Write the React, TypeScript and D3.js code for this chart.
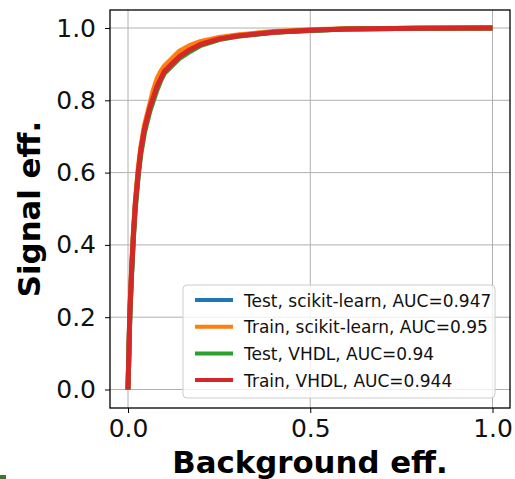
import React, { useEffect, useRef } from "react";
import * as d3 from "d3";

// ROC curve points (background eff. -> signal eff.)
const fpr = [0, 0.005, 0.01, 0.015, 0.02, 0.028, 0.035, 0.045, 0.06, 0.07, 0.08, 0.09, 0.1, 0.12, 0.14, 0.17, 0.2, 0.25, 0.3, 0.4, 0.5, 0.6, 0.8, 1.0];
const testSklearn = [0, 0.21, 0.33, 0.43, 0.51, 0.6, 0.66, 0.72, 0.78, 0.815, 0.845, 0.865, 0.885, 0.905, 0.925, 0.943, 0.957, 0.971, 0.979, 0.989, 0.994, 0.997, 0.999, 1.0];
const trainSklearn = [0, 0.22, 0.34, 0.44, 0.52, 0.61, 0.67, 0.73, 0.79, 0.83, 0.86, 0.88, 0.895, 0.915, 0.935, 0.952, 0.963, 0.974, 0.981, 0.99, 0.995, 0.998, 0.999, 1.0];
const testVhdl = [0, 0.2, 0.32, 0.42, 0.5, 0.59, 0.65, 0.71, 0.77, 0.8, 0.83, 0.855, 0.875, 0.895, 0.915, 0.935, 0.952, 0.968, 0.977, 0.988, 0.993, 0.997, 0.999, 1.0];
const trainVhdl = [0, 0.21, 0.33, 0.43, 0.51, 0.6, 0.66, 0.72, 0.78, 0.81, 0.84, 0.86, 0.88, 0.9, 0.92, 0.94, 0.955, 0.97, 0.978, 0.988, 0.994, 0.997, 0.999, 1.0];

const seriesNames = [
  "Test, scikit-learn, AUC=0.947",
  "Train, scikit-learn, AUC=0.95",
  "Test, VHDL, AUC=0.94",
  "Train, VHDL, AUC=0.944",
];
const seriesValues = [testSklearn, trainSklearn, testVhdl, trainVhdl];
const seriesColors = ["#1f77b4", "#ff7f0e", "#2ca02c", "#d62728"];

const xTicks = [0, 0.5, 1.0];
const yTicks = [0, 0.2, 0.4, 0.6, 0.8, 1.0];

const App = () => {
  const ref = useRef<SVGSVGElement>(null);

  useEffect(() => {
    const svg = d3.select(ref.current);
    svg.selectAll("*").remove();

    const font = "DejaVu Sans, sans-serif";
    const box = { left: 110, top: 10, right: 510, bottom: 408 };

    const x = d3.scaleLinear().domain([0, 1]).range([128, 492.5]);
    const y = d3.scaleLinear().domain([0, 1]).range([389.5, 28]);

    svg.append("rect").attr("width", 515).attr("height", 479).attr("fill", "#fff");

    // grid
    svg.append("g")
      .selectAll("line.gx")
      .data(xTicks)
      .enter()
      .append("line")
      .attr("x1", (d) => x(d))
      .attr("x2", (d) => x(d))
      .attr("y1", box.top)
      .attr("y2", box.bottom)
      .attr("stroke", "#b0b0b0")
      .attr("stroke-width", 1);
    svg.append("g")
      .selectAll("line.gy")
      .data(yTicks)
      .enter()
      .append("line")
      .attr("y1", (d) => y(d))
      .attr("y2", (d) => y(d))
      .attr("x1", box.left)
      .attr("x2", box.right)
      .attr("stroke", "#b0b0b0")
      .attr("stroke-width", 1);

    // curves
    const line = d3
      .line<number>()
      .x((_, i) => x(fpr[i]))
      .y((d) => y(d));
    seriesValues.forEach((vals, i) => {
      svg.append("path")
        .attr("d", line(vals))
        .attr("fill", "none")
        .attr("stroke", seriesColors[i])
        .attr("stroke-width", 5)
        .attr("stroke-linejoin", "round");
    });

    // frame
    svg.append("rect")
      .attr("x", box.left)
      .attr("y", box.top)
      .attr("width", box.right - box.left)
      .attr("height", box.bottom - box.top)
      .attr("fill", "none")
      .attr("stroke", "#000")
      .attr("stroke-width", 1.3);

    // x axis
    const xAxis = svg.append("g").attr("transform", `translate(0,${box.bottom})`)
      .call(d3.axisBottom(x).tickValues(xTicks).tickFormat(d3.format(".1f")).tickSizeOuter(0).tickSize(5).tickPadding(6));
    xAxis.select(".domain").remove();
    xAxis.selectAll("text").attr("font-size", 25).attr("font-family", font).attr("fill", "#111");

    // y axis
    const yAxis = svg.append("g").attr("transform", `translate(${box.left},0)`)
      .call(d3.axisLeft(y).tickValues(yTicks).tickFormat(d3.format(".1f")).tickSizeOuter(0).tickSize(5).tickPadding(9));
    yAxis.select(".domain").remove();
    yAxis.selectAll("text").attr("font-size", 25).attr("font-family", font).attr("fill", "#111");

    // axis labels
    svg.append("text")
      .attr("x", (box.left + box.right) / 2)
      .attr("y", 473)
      .attr("text-anchor", "middle")
      .attr("font-family", font)
      .attr("font-weight", "bold")
      .attr("font-size", 30.8)
      .text("Background eff.");
    svg.append("text")
      .attr("transform", `translate(40,${(box.top + box.bottom) / 2}) rotate(-90)`)
      .attr("text-anchor", "middle")
      .attr("font-family", font)
      .attr("font-weight", "bold")
      .attr("font-size", 30.8)
      .text("Signal eff.");

    // legend
    const lg = svg.append("g");
    lg.append("rect")
      .attr("x", 183)
      .attr("y", 285)
      .attr("width", 312)
      .attr("height", 113)
      .attr("rx", 4)
      .attr("fill", "rgba(255,255,255,0.8)")
      .attr("stroke", "#cccccc");
    seriesNames.forEach((name, i) => {
      const cy = 300 + i * 26.7;
      lg.append("line")
        .attr("x1", 195)
        .attr("x2", 233)
        .attr("y1", cy)
        .attr("y2", cy)
        .attr("stroke", seriesColors[i])
        .attr("stroke-width", 4);
      lg.append("text")
        .attr("x", 244)
        .attr("y", cy + 6.5)
        .attr("font-family", font)
        .attr("font-size", 17)
        .attr("fill", "#111")
        .text(name);
    });

    // small green mark at bottom-left corner of the picture
    svg.append("rect").attr("x", 0).attr("y", 475).attr("width", 6).attr("height", 4).attr("fill", "#2e7d32");
  }, []);

  return (
    <svg
      ref={ref}
      width={515}
      height={479}
      style={{ position: "absolute", left: 0, top: 0, display: "block" }}
    />
  );
};

export default App;
